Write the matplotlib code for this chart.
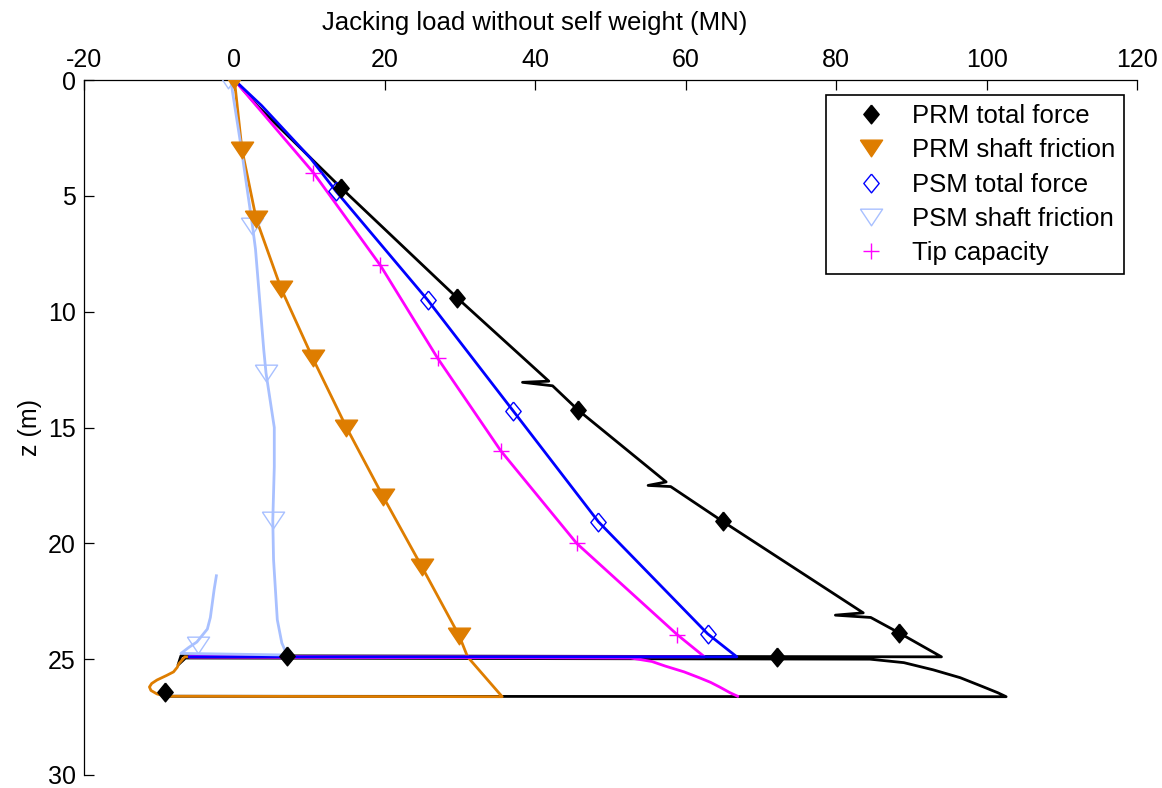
import matplotlib
matplotlib.use("Agg")
import matplotlib.pyplot as plt
from matplotlib.lines import Line2D

plt.rcParams['font.family'] = ['Liberation Sans', 'DejaVu Sans']
plt.rcParams['axes.unicode_minus'] = False

# ---- data: depth z (m) and jacking load (MN) ----
prm_total_z = [0, 1.1, 4.66, 9.4, 13.0, 13.05, 13.2, 14.25, 17.35, 17.5, 17.55, 19.05,
               23.0, 23.1, 23.2, 23.87, 24.9, 24.85, 25.25, 24.95, 25.0, 25.15, 25.46,
               25.8, 26.2, 26.45, 26.62, 26.6]
prm_total_x = [0, 3.0, 14.2, 29.6, 41.8, 38.3, 42.3, 45.7, 57.4, 55.0, 58.0, 64.9,
               83.6, 79.9, 84.6, 88.4, 94.0, -7.1, -7.5, -6.5, 84.5, 89.0, 92.9,
               96.5, 99.6, 101.5, 102.6, -9.3]
prm_total_mz = [4.66, 9.4, 14.25, 19.05, 23.87, 24.9, 24.86, 26.42]
prm_total_mx = [14.2, 29.6, 45.7, 64.9, 88.4, 72.1, 7.0, -9.2]

prm_shaft_z = [0, 3, 6, 9, 12, 15, 18, 21, 24, 24.9, 26.62, 26.6, 26.5, 26.35, 26.2,
               26.05, 25.9, 25.7, 25.55, 25.35, 25.2, 24.9, 24.9]
prm_shaft_x = [0, 1.0, 2.9, 6.2, 10.4, 14.9, 19.8, 24.9, 29.9, 31.0, 35.6, -9.2, -10.3,
               -11.1, -11.3, -11.0, -10.3, -9.0, -8.1, -7.6, -7.4, -6.6, 31.0]
prm_shaft_mz = [0, 3, 6, 9, 12, 15, 18, 21, 24]
prm_shaft_mx = [0, 1.0, 2.9, 6.2, 10.4, 14.9, 19.8, 24.9, 29.9]

psm_total_z = [0, 1.1, 3.37, 4.8, 9.5, 14.3, 19.07, 23.9, 24.9, 24.9]
psm_total_x = [0, 3.6, 10.1, 13.5, 25.7, 37.1, 48.4, 62.9, 66.8, -6.0]
psm_total_mz = [4.8, 9.5, 14.3, 19.07, 23.9]
psm_total_mx = [13.5, 25.7, 37.1, 48.4, 62.9]

psm_shaft_z = [0, 2.7, 6.3, 7.3, 11.65, 12.65, 15.0, 16.7, 19.0, 20.7, 23.3, 24.3, 24.82,
               24.75, 24.5, 24.26, 23.7, 23.2, 22.0, 21.4]
psm_shaft_x = [-0.5, 0.8, 2.4, 2.8, 3.9, 4.2, 5.3, 5.3, 5.1, 5.2, 5.7, 6.3, 7.0,
               -7.1, -6.1, -5.0, -3.6, -3.2, -2.7, -2.4]
psm_shaft_mz = [0, 6.3, 12.65, 19.0, 24.4]
psm_shaft_mx = [-0.8, 2.4, 4.2, 5.1, -4.9]

tip_z = [0, 4, 8, 12, 16, 20, 23.95, 24.9, 24.9, 24.95, 25.1, 25.3, 25.55, 25.8, 26.0,
         26.2, 26.45, 26.6]
tip_x = [0, 10.5, 19.4, 27.0, 35.4, 45.5, 58.9, 62.5, -6.0, 52.7, 55.5, 57.3, 59.8, 61.8,
         63.3, 64.5, 65.9, 66.9]
tip_mz = [4, 8, 12, 16, 20, 23.95]
tip_mx = [10.5, 19.4, 27.0, 35.4, 45.5, 58.9]

x_ticks = [-20, 0, 20, 40, 60, 80, 100, 120]
z_ticks = [0, 5, 10, 15, 20, 25, 30]

labels = ["PRM total force", "PRM shaft friction", "PSM total force",
          "PSM shaft friction", "Tip capacity"]

# ---- styles ----
C_BLACK = "#000000"
C_ORANGE = "#DE7D00"
C_BLUE = "#0000FF"
C_LBLUE = "#A8C0FF"
C_MAG = "#FF00FF"

diamond = [(0, 1), (0.82, 0), (0, -1), (-0.82, 0), (0, 1)]
tri_down = [(-1, 0.75), (1, 0.75), (0, -0.75), (-1, 0.75)]

fig = plt.figure(figsize=(11.62, 7.88), dpi=100)
ax = fig.add_axes([84 / 1162, 1 - 775 / 788, 1053 / 1162, 695 / 788])

lw = 2.0
ax.plot(prm_total_x, prm_total_z, color=C_BLACK, lw=lw, zorder=2.0)
ax.plot(prm_shaft_x, prm_shaft_z, color=C_ORANGE, lw=lw, zorder=2.1)
ax.plot(tip_x, tip_z, color=C_MAG, lw=lw, zorder=2.2)
ax.plot(psm_total_x, psm_total_z, color=C_BLUE, lw=lw, zorder=2.3)
ax.plot(psm_shaft_x, psm_shaft_z, color=C_LBLUE, lw=lw, zorder=2.4)

ms_d = 13.5
ms_t = 16
ax.plot(psm_shaft_mx, psm_shaft_mz, ls="none", marker=tri_down, ms=ms_t,
        mfc="none", mec=C_LBLUE, mew=1.0, zorder=3.0)
ax.plot(psm_total_mx, psm_total_mz, ls="none", marker=diamond, ms=ms_d,
        mfc="none", mec=C_BLUE, mew=1.0, zorder=3.1)
ax.plot(tip_mx, tip_mz, ls="none", marker="+", ms=11, mec=C_MAG, mew=1.0, zorder=3.2)
ax.plot(prm_total_mx, prm_total_mz, ls="none", marker=diamond, ms=ms_d,
        mfc=C_BLACK, mec=C_BLACK, mew=1.0, zorder=3.3)
ax.plot(prm_shaft_mx, prm_shaft_mz, ls="none", marker=tri_down, ms=ms_t,
        mfc=C_ORANGE, mec=C_ORANGE, mew=1.0, zorder=3.4)

# ---- axes ----
ax.set_xlim(-20, 120)
ax.set_ylim(30, 0)
ax.set_xticks(x_ticks)
ax.set_yticks(z_ticks)
ax.xaxis.tick_top()
ax.xaxis.set_label_position("top")
ax.spines["right"].set_visible(False)
ax.spines["bottom"].set_visible(False)
for s in ("top", "left"):
    ax.spines[s].set_linewidth(0.9)
ax.tick_params(axis="both", direction="in", length=7, width=0.9, labelsize=18)
ax.tick_params(axis="x", pad=6)
ax.tick_params(axis="y", pad=6)
ax.set_xlabel("Jacking load without self weight (MN)", fontsize=18.5)
ax.xaxis.set_label_coords(0.428, 1.072)
ax.set_ylabel("z (m)", fontsize=18)
ax.yaxis.set_label_coords(-0.04, 0.5)

handles = [
    Line2D([], [], ls="none", marker=diamond, ms=ms_d, mfc=C_BLACK, mec=C_BLACK),
    Line2D([], [], ls="none", marker=tri_down, ms=ms_t, mfc=C_ORANGE, mec=C_ORANGE),
    Line2D([], [], ls="none", marker=diamond, ms=ms_d, mfc="none", mec=C_BLUE, mew=1.0),
    Line2D([], [], ls="none", marker=tri_down, ms=ms_t, mfc="none", mec=C_LBLUE, mew=1.0),
    Line2D([], [], ls="none", marker="+", ms=11, mec=C_MAG, mew=1.0),
]
leg = ax.legend(handles, labels, loc="upper right", bbox_to_anchor=(0.9877, 0.9784),
                borderaxespad=0, fontsize=18.5, numpoints=1, fancybox=False,
                framealpha=1, edgecolor="black", borderpad=0.35, handlelength=2.8,
                handletextpad=0.2, labelspacing=0.4)
leg.get_frame().set_linewidth(1.2)

fig.savefig("out.png", dpi=100)
